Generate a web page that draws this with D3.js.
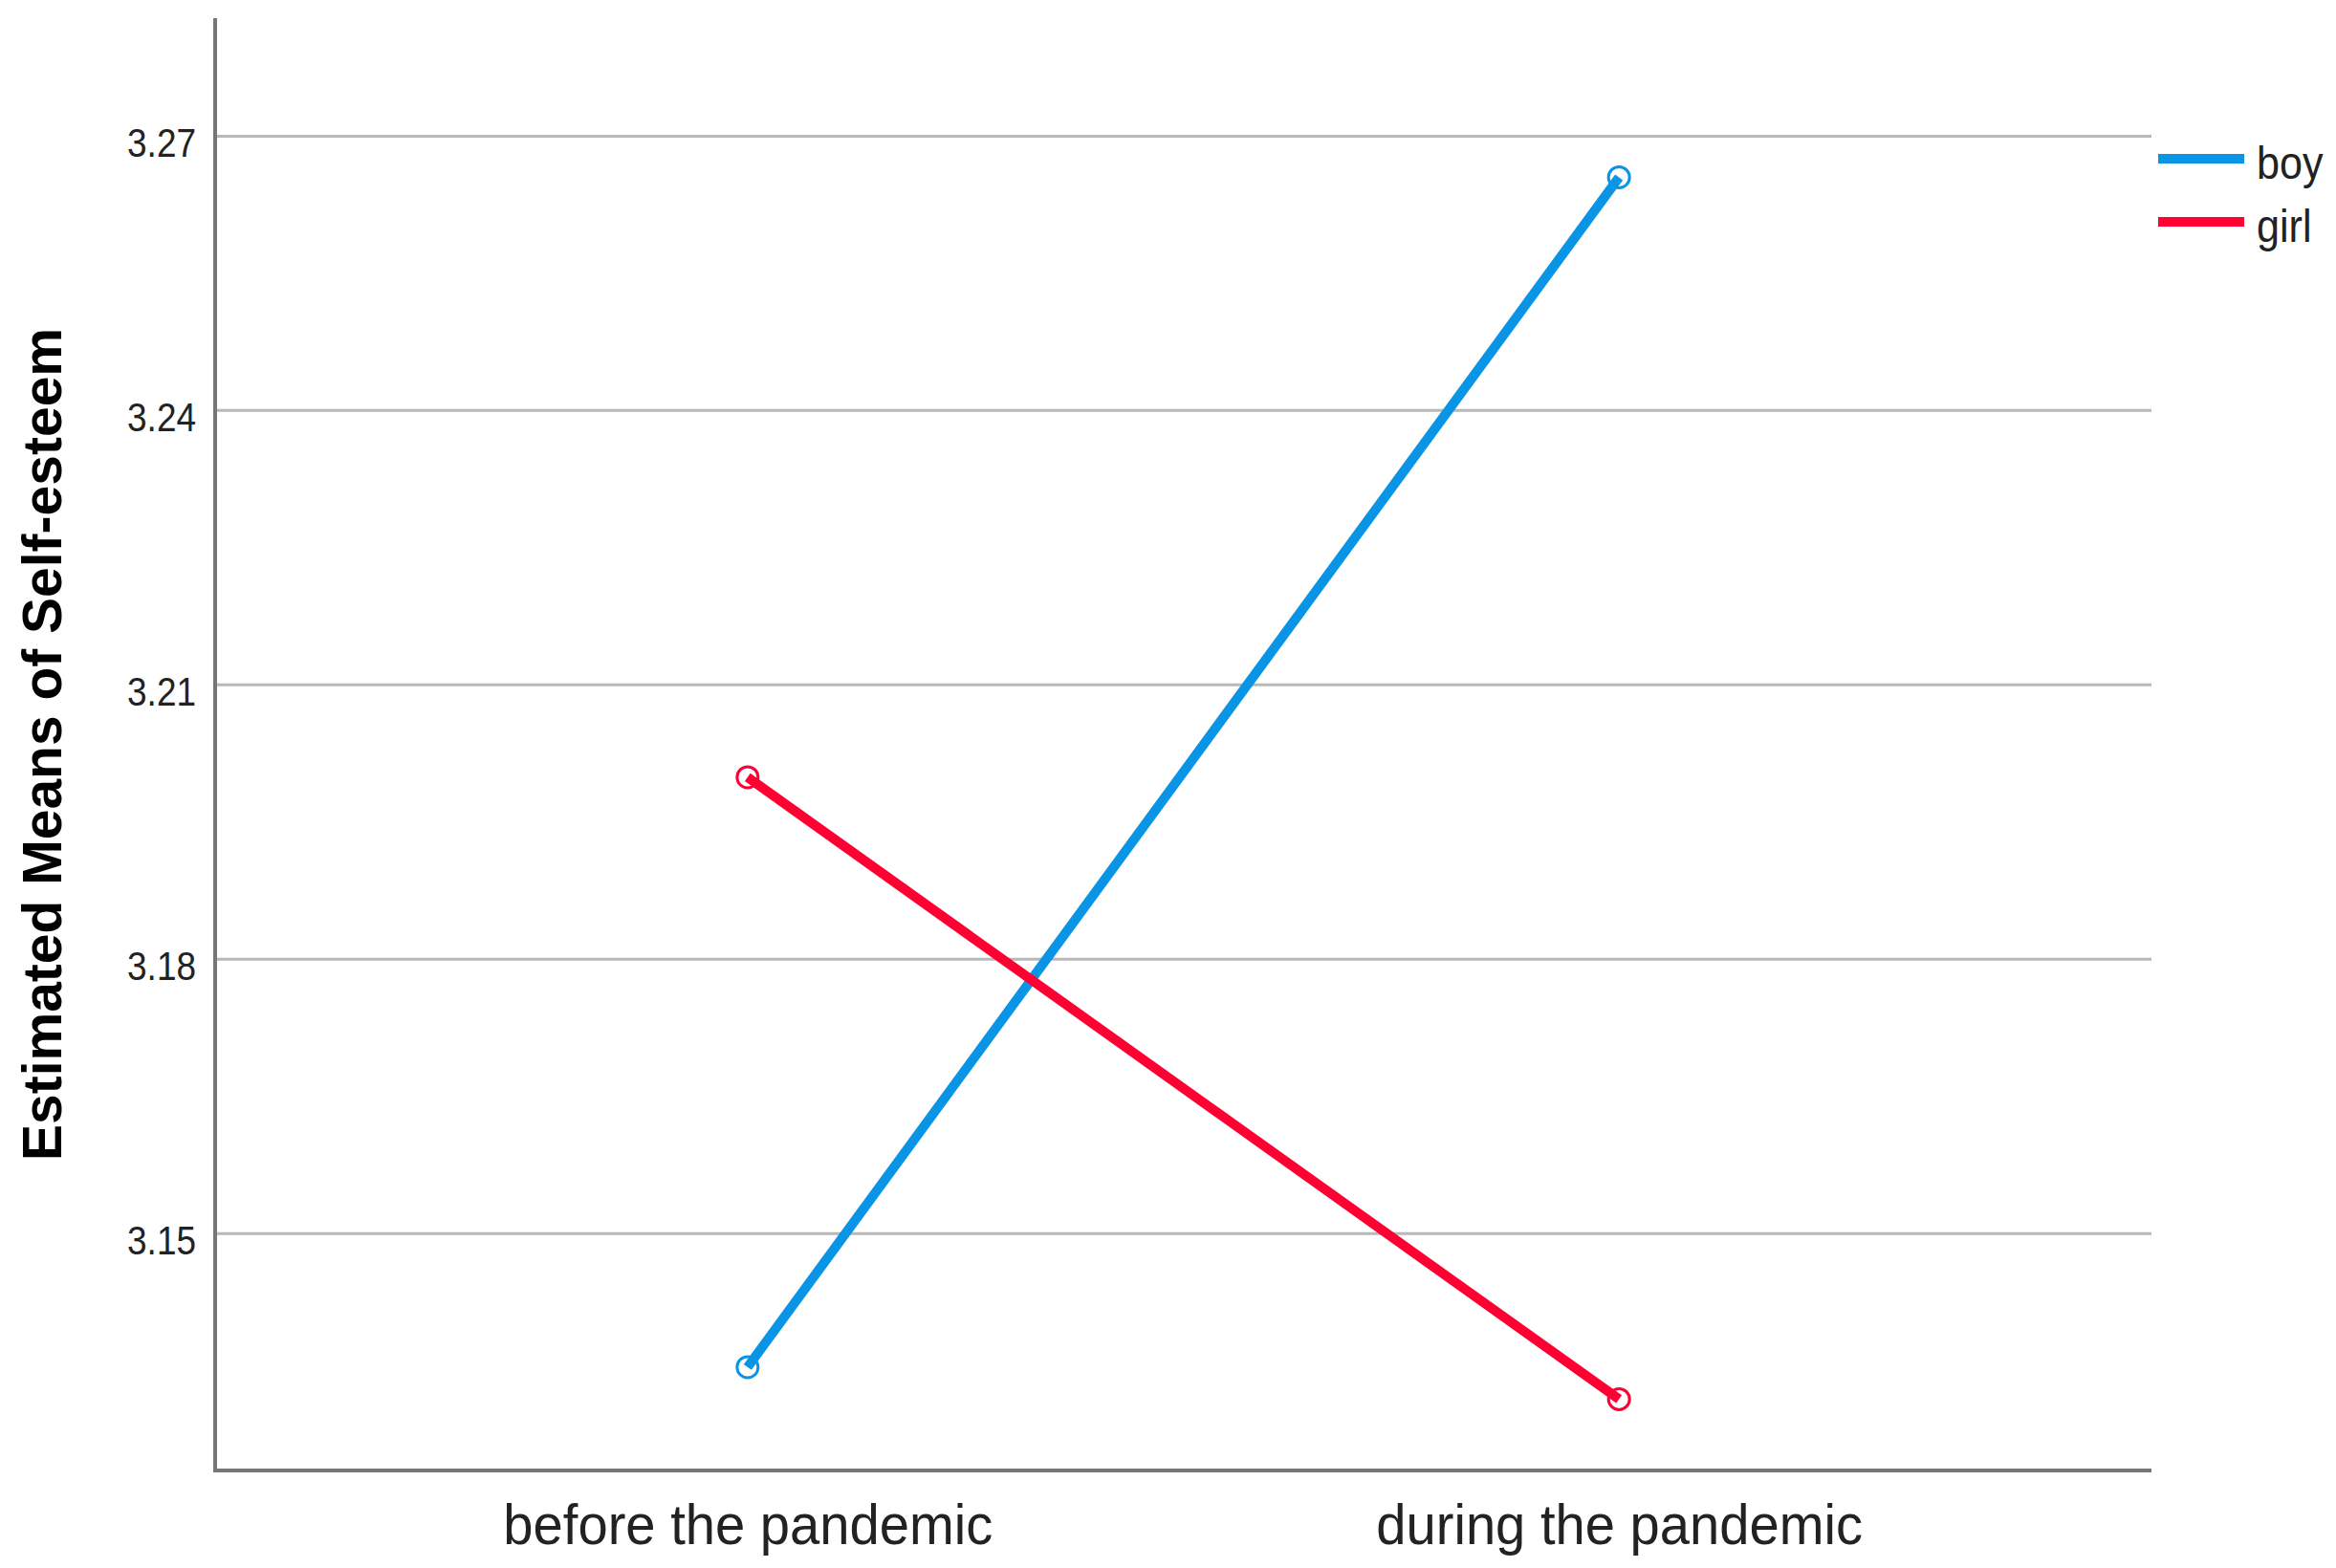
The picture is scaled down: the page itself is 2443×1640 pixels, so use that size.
<!DOCTYPE html>
<html>
<head>
<meta charset="utf-8">
<script src="https://cdn.jsdelivr.net/npm/d3@7"></script>
<style>
  html, body { margin: 0; padding: 0; background: #ffffff; }
  svg { display: block; }
</style>
</head>
<body>
<svg id="chart" width="2443" height="1640"></svg>
<script>
// ---- data ----
const categories = ["before the pandemic", "during the pandemic"];
const seriesNames = ["boy", "girl"];
const boyValues = [3.1354, 3.2655];
const girlValues = [3.1999, 3.1319];
const yTicks = [3.15, 3.18, 3.21, 3.24, 3.27];
const yTitle = "Estimated Means of Self-esteem";
const colors = { boy: "#0a94e6", girl: "#ff0033" };

const series = [
  { name: seriesNames[0], values: boyValues },
  { name: seriesNames[1], values: girlValues }
];

// ---- layout ----
const W = 2443, H = 1640;
const plot = { left: 225, right: 2250, top: 19, bottom: 1538 };

const svg = d3.select("#chart");

const x = d3.scalePoint().domain(categories).range([plot.left, plot.right]).padding(0.611);
const y = d3.scaleLinear().domain([3.1241, 3.2829]).range([plot.bottom, plot.top]);

function compress(sel, k) {
  sel.each(function () {
    const w = this.getComputedTextLength();
    d3.select(this).attr("textLength", w * k).attr("lengthAdjust", "spacingAndGlyphs");
  });
}

// gridlines
svg.append("g").selectAll("line").data(yTicks).join("line")
  .attr("x1", plot.left + 2).attr("x2", plot.right)
  .attr("y1", d => y(d)).attr("y2", d => y(d))
  .attr("stroke", "#b8b8b8").attr("stroke-width", 3);

// y axis labels
const yAxis = svg.append("g")
  .attr("transform", `translate(${plot.left},0)`)
  .call(d3.axisLeft(y).tickValues(yTicks).tickSize(0).tickPadding(20).tickFormat(d3.format(".2f")));
yAxis.select(".domain").remove();
yAxis.selectAll("text")
  .attr("dy", "0.5em")
  .attr("fill", "#222")
  .style("font-family", "'Liberation Sans', Arial, sans-serif")
  .style("font-size", "42px")
  .call(compress, 0.88);

// x axis labels
const xAxis = svg.append("g")
  .attr("transform", `translate(0,${plot.bottom})`)
  .call(d3.axisBottom(x).tickSize(0));
xAxis.select(".domain").remove();
xAxis.selectAll("text")
  .attr("y", 77).attr("dy", 0)
  .attr("fill", "#222")
  .style("font-family", "'Liberation Sans', Arial, sans-serif")
  .style("font-size", "60px")
  .call(compress, 0.936);

// axis lines
svg.append("line")
  .attr("x1", plot.left).attr("x2", plot.left)
  .attr("y1", plot.top).attr("y2", plot.bottom + 2)
  .attr("stroke", "#767676").attr("stroke-width", 4);
svg.append("line")
  .attr("x1", plot.left - 2).attr("x2", plot.right)
  .attr("y1", plot.bottom).attr("y2", plot.bottom)
  .attr("stroke", "#767676").attr("stroke-width", 4);

// y title
svg.append("text")
  .attr("transform", `translate(64,${(plot.top + plot.bottom) / 2}) rotate(-90)`)
  .attr("text-anchor", "middle")
  .attr("fill", "#000")
  .style("font-family", "'Liberation Sans', Arial, sans-serif")
  .style("font-weight", "bold")
  .style("font-size", "57px")
  .text(yTitle);

// lines
const line = d3.line().x((d, i) => x(categories[i])).y(d => y(d));
svg.append("g").selectAll("path").data(series).join("path")
  .attr("d", d => line(d.values))
  .attr("fill", "none")
  .attr("stroke", d => colors[d.name])
  .attr("stroke-width", 10);

// markers
series.forEach(s => {
  svg.append("g").selectAll("circle").data(s.values).join("circle")
    .attr("cx", (d, i) => x(categories[i]))
    .attr("cy", d => y(d))
    .attr("r", 11)
    .attr("fill", "none")
    .attr("stroke", colors[s.name])
    .attr("stroke-width", 3);
});

// legend
const legend = svg.append("g");
const legendY = [166, 232];
series.forEach((s, i) => {
  legend.append("line")
    .attr("x1", 2257).attr("x2", 2347)
    .attr("y1", legendY[i]).attr("y2", legendY[i])
    .attr("stroke", colors[s.name]).attr("stroke-width", 10);
  legend.append("text")
    .attr("x", 2360).attr("y", legendY[i] + 21)
    .attr("fill", "#222")
    .style("font-family", "'Liberation Sans', Arial, sans-serif")
    .style("font-size", "49px")
    .text(s.name)
    .call(compress, 0.88);
});
</script>
</body>
</html>
